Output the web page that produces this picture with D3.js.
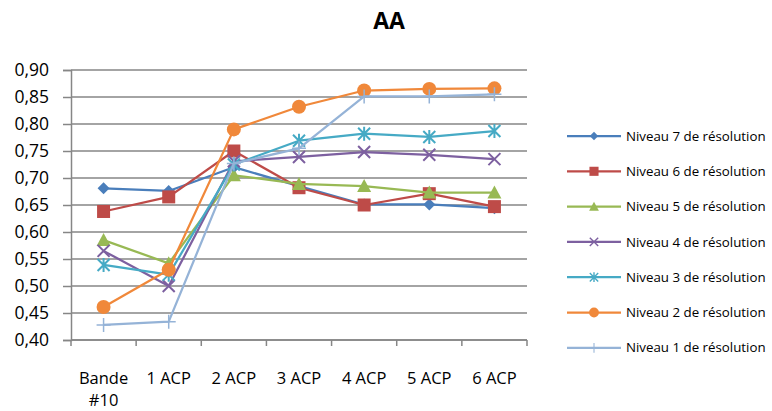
<!DOCTYPE html>
<html>
<head>
<meta charset="utf-8">
<script src="https://cdn.jsdelivr.net/npm/d3@7"></script>
<style>
  body { margin: 0; background: #fff; }
  svg text { font-family: "Open Sans", "Liberation Sans", sans-serif; fill: #000; }
</style>
</head>
<body>
<svg class="chart"></svg>
<script>
var width = 772, height = 411;

// data
var categories = ["Bande #10", "1 ACP", "2 ACP", "3 ACP", "4 ACP", "5 ACP", "6 ACP"];
var yTicks = [0.40, 0.45, 0.50, 0.55, 0.60, 0.65, 0.70, 0.75, 0.80, 0.85, 0.90];
var seriesNames = ["Niveau 7 de résolution", "Niveau 6 de résolution", "Niveau 5 de résolution",
                   "Niveau 4 de résolution", "Niveau 3 de résolution", "Niveau 2 de résolution",
                   "Niveau 1 de résolution"];
var niveau7 = [0.681, 0.676, 0.720, 0.685, 0.651, 0.651, 0.644];
var niveau6 = [0.638, 0.665, 0.750, 0.682, 0.650, 0.671, 0.647];
var niveau5 = [0.585, 0.542, 0.705, 0.689, 0.685, 0.673, 0.673];
var niveau4 = [0.565, 0.500, 0.731, 0.739, 0.748, 0.743, 0.735];
var niveau3 = [0.539, 0.521, 0.725, 0.769, 0.782, 0.776, 0.787];
var niveau2 = [0.461, 0.530, 0.790, 0.832, 0.862, 0.865, 0.866];
var niveau1 = [0.428, 0.434, 0.727, 0.755, 0.851, 0.851, 0.855];

var colors = ["#4a7ebb", "#be4b48", "#98b954", "#7d60a0", "#46aac5", "#f0883a", "#95b3d7"];
var markers = ["diamond", "square", "triangle", "cross", "star", "circle", "plus"];

var series = [niveau7, niveau6, niveau5, niveau4, niveau3, niveau2, niveau1].map(function(v, i) {
    return { name: seriesNames[i], values: v, color: colors[i], marker: markers[i] };
});

var chart = d3.select(".chart")
    .attr("width", width)
    .attr("height", height);

var x_scale = d3.scaleBand()
    .domain(categories)
    .range([71, 527]);

var y_scale = d3.scaleLinear()
    .domain([0.40, 0.90])
    .range([340, 70]);

var fmt = function(d) { return d3.format(".2f")(d).replace(".", ","); };

// gridlines
chart.append("g")
    .selectAll("line")
    .data(yTicks)
    .enter().append("line")
    .attr("x1", 71).attr("x2", 527)
    .attr("y1", function(d) { return y_scale(d); })
    .attr("y2", function(d) { return y_scale(d); })
    .attr("stroke", "#868686")
    .attr("stroke-width", 1.5);

// y axis
var y_axis = d3.axisLeft(y_scale)
    .tickValues(yTicks)
    .tickFormat(fmt)
    .tickSize(8)
    .tickPadding(14);

var gy = chart.append("g")
    .attr("transform", "translate(71,0)")
    .call(y_axis);
gy.select(".domain").attr("stroke", "#868686").attr("stroke-width", 1.5);
gy.selectAll(".tick line").attr("stroke", "#868686").attr("stroke-width", 1.5);
gy.selectAll("text").attr("font-size", 17.5).attr("font-family", "Open Sans");

// x axis: ticks on band edges
var gx = chart.append("g")
    .attr("transform", "translate(0,340)");
gx.append("line")
    .attr("x1", 71).attr("x2", 527)
    .attr("stroke", "#868686").attr("stroke-width", 1.5);
var edges = categories.map(function(c) { return x_scale(c); }).concat([x_scale.range()[1]]);
gx.selectAll(".xt")
    .data(edges)
    .enter().append("line")
    .attr("class", "xt")
    .attr("x1", function(d) { return d; }).attr("x2", function(d) { return d; })
    .attr("y1", 0).attr("y2", 6)
    .attr("stroke", "#868686").attr("stroke-width", 1.5);
var xl = gx.selectAll(".xl")
    .data(categories)
    .enter().append("text")
    .attr("class", "xl")
    .attr("text-anchor", "middle")
    .attr("font-size", 16.5)
    .attr("x", function(d) { return x_scale(d) + x_scale.bandwidth() / 2; })
    .attr("y", 44);
xl.each(function(d) {
    var parts = d.split(" ");
    var t = d3.select(this);
    if (d.indexOf("#") >= 0) {
        t.append("tspan").attr("x", t.attr("x")).text(parts[0]);
        t.append("tspan").attr("x", t.attr("x")).attr("dy", 22).text(parts[1]);
    } else {
        t.text(d);
    }
});

// title
chart.append("text")
    .attr("x", 389).attr("y", 29)
    .attr("text-anchor", "middle")
    .attr("font-size", 23)
    .attr("font-weight", "bold")
    .text("AA");

function drawMarker(g, type, color) {
    if (type === "diamond") {
        g.append("path").attr("d", "M0,-6L6,0L0,6L-6,0Z").attr("fill", color);
    } else if (type === "square") {
        g.append("rect").attr("x", -6.5).attr("y", -6.5).attr("width", 13).attr("height", 13).attr("fill", color);
    } else if (type === "triangle") {
        g.append("path").attr("d", "M0,-7L7,6L-7,6Z").attr("fill", color);
    } else if (type === "circle") {
        g.append("circle").attr("r", 7).attr("fill", color);
    } else if (type === "cross") {
        g.append("path").attr("d", "M-6,-6L6,6M-6,6L6,-6").attr("stroke", color).attr("stroke-width", 2).attr("fill", "none");
    } else if (type === "star") {
        g.append("path").attr("d", "M-6,-6L6,6M-6,6L6,-6M0,-7L0,7").attr("stroke", color).attr("stroke-width", 2).attr("fill", "none");
    } else if (type === "plus") {
        g.append("path").attr("d", "M-7,0L7,0M0,-7L0,7").attr("stroke", color).attr("stroke-width", 1.5).attr("fill", "none");
    }
}

var line = d3.line()
    .x(function(d, i) { return x_scale(categories[i]) + x_scale.bandwidth() / 2; })
    .y(function(d) { return y_scale(d); });

var sg = chart.selectAll(".series")
    .data(series)
    .enter().append("g")
    .attr("class", "series");

sg.append("path")
    .attr("d", function(d) { return line(d.values); })
    .attr("fill", "none")
    .attr("stroke", function(d) { return d.color; })
    .attr("stroke-width", 2.25)
    .attr("stroke-linejoin", "round");

sg.each(function(s) {
    d3.select(this).selectAll(".pt")
        .data(s.values)
        .enter().append("g")
        .attr("class", "pt")
        .attr("transform", function(d, i) {
            return "translate(" + (x_scale(categories[i]) + x_scale.bandwidth() / 2) + "," + y_scale(d) + ")";
        })
        .each(function() { drawMarker(d3.select(this), s.marker, s.color); });
});

// legend
var legend = chart.selectAll(".legend")
    .data(series)
    .enter().append("g")
    .attr("class", "legend")
    .attr("transform", function(d, i) { return "translate(567," + (136 + i * 35.3) + ")"; });

legend.append("line")
    .attr("x1", 0).attr("x2", 54)
    .attr("stroke", function(d) { return d.color; })
    .attr("stroke-width", 2.25);

legend.each(function(d) {
    var g = d3.select(this).append("g")
        .attr("transform", "translate(27,0) scale(0.7)");
    drawMarker(g, d.marker, d.color);
});

legend.append("text")
    .attr("x", 59)
    .attr("dy", "0.35em")
    .attr("font-size", 13.3)
    .text(function(d) { return d.name; });
</script>
</body>
</html>
